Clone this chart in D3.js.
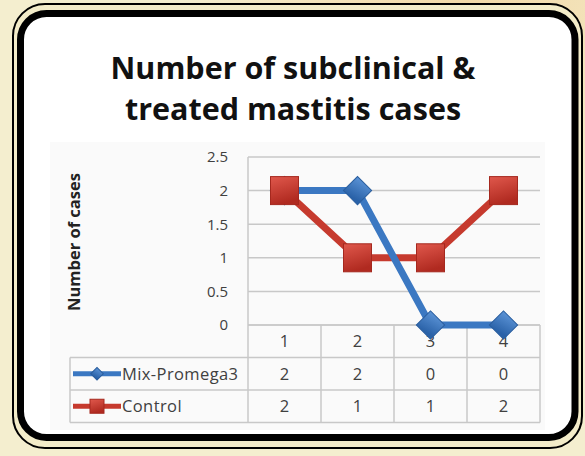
<!DOCTYPE html>
<html>
<head>
<meta charset="utf-8">
<script src="https://cdn.jsdelivr.net/npm/d3@7"></script>
<style>
  body { margin: 0; background: #f4eecf; }
  svg { display: block; }
</style>
</head>
<body>
<svg width="585" height="456"></svg>
<script>
var categories = ["1", "2", "3", "4"];
var seriesNames = ["Mix-Promega3", "Control"];
var mixValues = [2, 2, 0, 0];
var controlValues = [2, 1, 1, 2];
var yTicks = [0, 0.5, 1, 1.5, 2, 2.5];
var titleLines = ["Number of subclinical &", "treated mastitis cases"];

var svg = d3.select("svg");
var defs = svg.append("defs");

// background and frame
var bg = defs.append("radialGradient").attr("id", "bg").attr("cx", "0.8").attr("cy", "0").attr("r", "0.5");
bg.append("stop").attr("offset", "0").attr("stop-color", "#f2d9a8");
bg.append("stop").attr("offset", "1").attr("stop-color", "#f4eecf");
svg.append("rect").attr("width", 585).attr("height", 456).attr("fill", "#f4eecf");
svg.append("rect").attr("width", 585).attr("height", 456).attr("fill", "url(#bg)");

svg.append("rect")
  .attr("x", 13).attr("y", 4).attr("width", 569).attr("height", 444)
  .attr("rx", 32).attr("fill", "#f3ecc9").attr("stroke", "#000").attr("stroke-width", 2);
svg.append("rect")
  .attr("x", 20.5).attr("y", 13.5).attr("width", 554.5).attr("height", 424)
  .attr("rx", 26).attr("fill", "#fff").attr("stroke", "#000").attr("stroke-width", 7);

// chart area
svg.append("rect")
  .attr("x", 50).attr("y", 142).attr("width", 495).attr("height", 288)
  .attr("fill", "#fafafa");

svg.selectAll("text.title")
  .data(titleLines)
  .enter().append("text")
  .attr("class", "title")
  .attr("x", 293)
  .attr("y", function(d, i) { return 79 + i * 41; })
  .attr("text-anchor", "middle")
  .attr("font-family", "Open Sans, sans-serif")
  .attr("font-weight", "bold")
  .attr("font-size", 30.5)
  .attr("fill", "#111")
  .text(function(d) { return d; });

var x = d3.scaleBand().domain(categories).range([248, 540]);
var y = d3.scaleLinear().domain([0, 2.5]).range([325, 157]);

// gridlines
svg.selectAll("line.grid")
  .data(yTicks)
  .enter().append("line")
  .attr("class", "grid")
  .attr("x1", 248).attr("x2", 540)
  .attr("y1", function(d) { return y(d); })
  .attr("y2", function(d) { return y(d); })
  .attr("stroke", "#c8c8c8").attr("stroke-width", 1.5);
svg.append("line")
  .attr("x1", 248).attr("x2", 248).attr("y1", y(2.5)).attr("y2", 422)
  .attr("stroke", "#c8c8c8").attr("stroke-width", 1.5);

var yAxis = d3.axisLeft(y).tickValues(yTicks).tickFormat(d3.format("~g")).tickSize(0).tickPadding(20);
var gy = svg.append("g").attr("transform", "translate(248,0)").call(yAxis);
gy.select(".domain").remove();
gy.selectAll("text")
  .attr("font-family", "Open Sans, sans-serif")
  .attr("font-size", 15)
  .attr("fill", "#404040");

svg.append("text")
  .attr("transform", "translate(80,242) rotate(-90)")
  .attr("text-anchor", "middle")
  .attr("font-family", "Open Sans, sans-serif")
  .attr("font-weight", "bold")
  .attr("font-size", 16.5)
  .attr("fill", "#222")
  .text("Number of cases");

// data table
var rowH = 32.5;
var tableTop = 325;
var tbl = svg.append("g");
[0, 1, 2, 3].forEach(function(r) {
  var yy = tableTop + r * rowH;
  tbl.append("line")
    .attr("x1", r === 0 ? 248 : 70).attr("x2", 540)
    .attr("y1", yy).attr("y2", yy)
    .attr("stroke", "#c8c8c8").attr("stroke-width", 1.5);
});
tbl.append("line").attr("x1", 70).attr("x2", 70)
  .attr("y1", tableTop + rowH).attr("y2", tableTop + 3 * rowH)
  .attr("stroke", "#c8c8c8").attr("stroke-width", 1.5);
categories.forEach(function(c) {
  tbl.append("line")
    .attr("x1", x(c) + x.bandwidth()).attr("x2", x(c) + x.bandwidth())
    .attr("y1", tableTop).attr("y2", tableTop + 3 * rowH)
    .attr("stroke", "#c8c8c8").attr("stroke-width", 1.5);
});

var rows = [categories, mixValues, controlValues];
rows.forEach(function(vals, r) {
  tbl.selectAll("text.r" + r)
    .data(vals)
    .enter().append("text")
    .attr("x", function(d, i) { return x(categories[i]) + x.bandwidth() / 2; })
    .attr("y", tableTop + r * rowH + rowH / 2 + 6)
    .attr("text-anchor", "middle")
    .attr("font-family", "Open Sans, sans-serif")
    .attr("font-size", 16.5)
    .attr("fill", "#404040")
    .text(function(d) { return d; });
});

// gradients for markers
function grad(id, c1, c2) {
  var g = defs.append("linearGradient").attr("id", id)
    .attr("x1", 0).attr("y1", 0).attr("x2", 0.3).attr("y2", 1);
  g.append("stop").attr("offset", 0).attr("stop-color", c1);
  g.append("stop").attr("offset", 1).attr("stop-color", c2);
}
grad("gBlue", "#5b93d6", "#2a62a8");
grad("gRed", "#e0584c", "#b02a20");

var blue = "#3b78c2", red = "#c63a2e";
var line = d3.line()
  .x(function(d, i) { return x(categories[i]) + x.bandwidth() / 2; })
  .y(function(d) { return y(d); });

svg.append("path").datum(controlValues).attr("d", line)
  .attr("fill", "none").attr("stroke", red).attr("stroke-width", 7);
svg.append("path").datum(mixValues).attr("d", line)
  .attr("fill", "none").attr("stroke", blue).attr("stroke-width", 7);

svg.selectAll("path.mix")
  .data(mixValues)
  .enter().append("path")
  .attr("class", "mix")
  .attr("d", d3.symbol().type(d3.symbolSquare).size(400))
  .attr("transform", function(d, i) {
    return "translate(" + (x(categories[i]) + x.bandwidth() / 2) + "," + y(d) + ") rotate(45)";
  })
  .attr("fill", "url(#gBlue)").attr("stroke", "#2a5e9e").attr("stroke-width", 1);

svg.selectAll("rect.ctl")
  .data(controlValues)
  .enter().append("rect")
  .attr("class", "ctl")
  .attr("x", function(d, i) { return x(categories[i]) + x.bandwidth() / 2 - 14; })
  .attr("y", function(d) { return y(d) - 14; })
  .attr("width", 28).attr("height", 28)
  .attr("fill", "url(#gRed)").attr("stroke", "#a5281e").attr("stroke-width", 1);

// legend keys in the table
var keys = [
  { name: seriesNames[0], color: blue, fill: "url(#gBlue)", diamond: true },
  { name: seriesNames[1], color: red, fill: "url(#gRed)", diamond: false }
];
keys.forEach(function(k, r) {
  var cy = tableTop + (r + 1) * rowH + rowH / 2;
  tbl.append("line").attr("x1", 73).attr("x2", 121).attr("y1", cy).attr("y2", cy)
    .attr("stroke", k.color).attr("stroke-width", 5);
  if (k.diamond) {
    tbl.append("path")
      .attr("d", d3.symbol().type(d3.symbolSquare).size(80))
      .attr("transform", "translate(97," + cy + ") rotate(45)")
      .attr("fill", k.fill).attr("stroke", "#2a5e9e");
  } else {
    tbl.append("rect").attr("x", 90).attr("y", cy - 7).attr("width", 14).attr("height", 14)
      .attr("fill", k.fill).attr("stroke", "#a5281e");
  }
  tbl.append("text")
    .attr("x", 122).attr("y", cy + 6)
    .attr("font-family", "Open Sans, sans-serif")
    .attr("font-size", 16.5)
    .attr("letter-spacing", 0.4)
    .attr("fill", "#404040")
    .text(k.name);
});
</script>
</body>
</html>
